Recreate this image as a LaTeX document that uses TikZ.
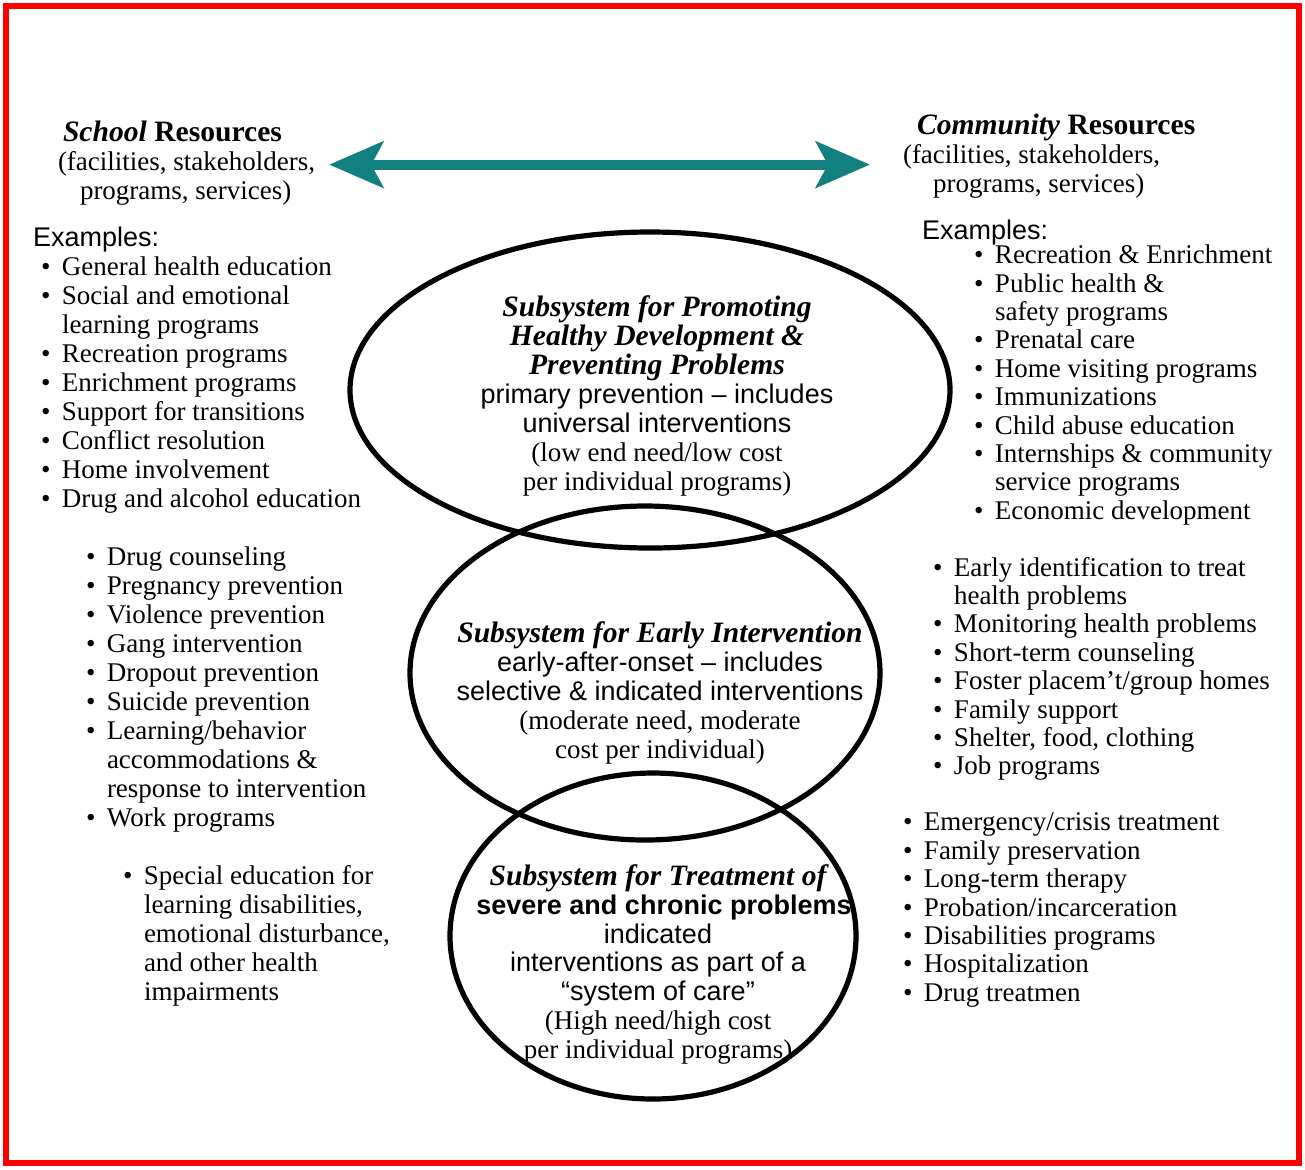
\documentclass[tikz,border=0pt]{standalone}
\usepackage{fontspec}
\setmainfont{Liberation Serif}
\setsansfont{Liberation Sans}
\usetikzlibrary{shapes,arrows.meta,positioning,calc}
\usepackage{xcolor}
\definecolor{framered}{RGB}{255,0,0}
\definecolor{linkteal}{RGB}{18,128,126}
\newcommand{\bl}{\makebox[10.5pt][l]{\textbullet}}
\newcommand{\cont}{\hspace*{10.5pt}}
\newcommand{\headfont}{\fontsize{14.8}{15}\selectfont\bfseries}

\begin{document}
\begin{tikzpicture}[
    x=0.5pt, y=-0.5pt,
    every node/.style={inner sep=0pt, outer sep=0pt},
    txt/.style={anchor=north west, align=left, font=\fontsize{13.5}{14.5}\selectfont, execute at begin node=\strut},
    rtxt/.style={txt, font=\fontsize{13.5}{14.2}\selectfont},
    exa/.style={txt, font=\fontsize{13.5}{14.5}\selectfont\sffamily},
    tiertxt/.style={anchor=north, align=center, font=\fontsize{13.5}{14.5}\selectfont, execute at begin node=\strut},
    tier/.style={ellipse, draw=black, line width=2.6pt},
    twoway/.style={draw=linkteal, line width=5pt, {Stealth[length=27pt, width=23pt, inset=6pt]}-{Stealth[length=27pt, width=23pt, inset=6pt]}}
]
\useasboundingbox (0,0) rectangle (1305,1169);
\draw[framered, line width=3pt] (6,6) rectangle (1299,1163);

\node[tier, minimum width=300pt, minimum height=158pt] (prom) at (650,390) {};
\node[tier, minimum width=235pt, minimum height=167pt] (early) at (645,673) {};
\node[tier, minimum width=203pt, minimum height=163pt] (treat) at (653,936) {};

\node[txt] (school) at (58,121) {\hspace*{2.5pt}{\headfont\textit{School} Resources}\\
    (facilities, stakeholders,\\
    \hspace*{11pt}programs, services)};
\node[txt] (community) at (903,114) {\hspace*{7pt}{\headfont\textit{Community} Resources}\\
    (facilities, stakeholders,\\
    \hspace*{15pt}programs, services)};
\draw[twoway, shorten <=7pt, shorten >=16.5pt] (school.east) -- (school.east -| community.west);

\node[exa] (schoolex) at (33,226) {Examples:};
\node[exa] (communityex) at (922,219) {Examples:};

\node[txt] (schoolA) at (41,257) {\bl General health education\\
    \bl Social and emotional\\
    \cont learning programs\\
    \bl Recreation programs\\
    \bl Enrichment programs\\
    \bl Support for transitions\\
    \bl Conflict resolution\\
    \bl Home involvement\\
    \bl Drug and alcohol education};
\node[txt] (schoolB) at (86,547) {\bl Drug counseling\\
    \bl Pregnancy prevention\\
    \bl Violence prevention\\
    \bl Gang intervention\\
    \bl Dropout prevention\\
    \bl Suicide prevention\\
    \bl Learning/behavior\\
    \cont accommodations \&\\
    \cont response to intervention\\
    \bl Work programs};
\node[txt] (schoolC) at (123,865) {\bl Special education for\\
    \cont learning disabilities,\\
    \cont emotional disturbance,\\
    \cont and other health\\
    \cont impairments};

\node[rtxt] (communityA) at (974,245) {\bl Recreation \& Enrichment\\
    \bl Public health \&\\
    \cont safety programs\\
    \bl Prenatal care\\
    \bl Home visiting programs\\
    \bl Immunizations\\
    \bl Child abuse education\\
    \bl Internships \& community\\
    \cont service programs\\
    \bl Economic development};
\node[rtxt] (communityB) at (933,557) {\bl Early identification to treat\\
    \cont health problems\\
    \bl Monitoring health problems\\
    \bl Short-term counseling\\
    \bl Foster placem’t/group homes\\
    \bl Family support\\
    \bl Shelter, food, clothing\\
    \bl Job programs};
\node[rtxt] (communityC) at (903,813) {\bl Emergency/crisis treatment\\
    \bl Family preservation\\
    \bl Long-term therapy\\
    \bl Probation/incarceration\\
    \bl Disabilities programs\\
    \bl Hospitalization\\
    \bl Drug treatmen};

\node[tiertxt] (promtxt) at (657,296) {{\headfont\itshape Subsystem for Promoting}\\
    {\headfont\itshape Healthy Development \&}\\
    {\headfont\itshape Preventing Problems}\\
    {\sffamily primary prevention – includes}\\
    {\sffamily universal interventions}\\
    (low end need/low cost\\
    per individual programs)};
\node[tiertxt] (earlytxt) at (660,622) {{\headfont\itshape Subsystem for Early Intervention}\\
    {\sffamily early-after-onset – includes}\\
    {\sffamily selective \& indicated interventions}\\
    (moderate need, moderate\\
    cost per individual)};
\node[tiertxt, font=\fontsize{13.5}{14.35}\selectfont] (treattxt) at (658,865) {{\headfont\itshape Subsystem for Treatment of}\\
    \hspace*{6pt}{\sffamily\bfseries severe and chronic problems}\\
    {\sffamily indicated}\\
    {\sffamily interventions as part of a}\\
    {\sffamily “system of care”}\\
    (High need/high cost\\
    per individual programs)};
\end{tikzpicture}
\end{document}
